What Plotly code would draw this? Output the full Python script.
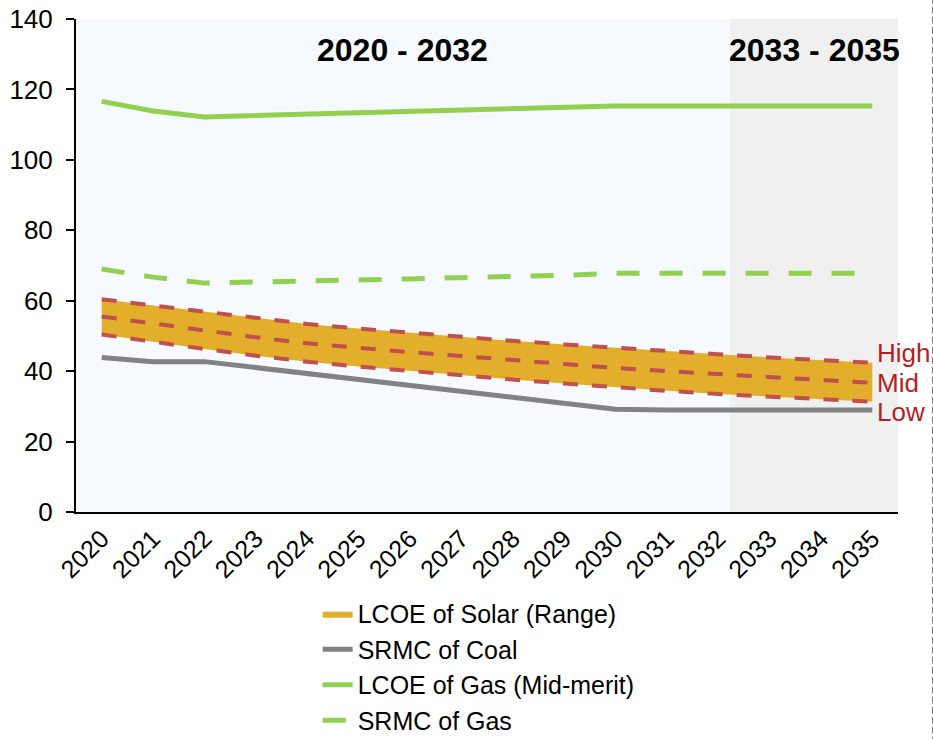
import plotly.graph_objects as go

years = [str(y) for y in range(2020, 2036)]

solar_high = [60.4, 58.6, 56.8, 55.1, 53.4, 52.1, 50.9, 49.9, 48.6, 47.6, 46.6, 45.7, 44.8, 43.9, 43.1, 42.4]
solar_mid = [55.5, 53.5, 51.5, 49.6, 47.9, 46.6, 45.4, 44.3, 43.1, 42.0, 40.9, 40.0, 39.1, 38.3, 37.5, 36.7]
solar_low = [50.4, 48.3, 46.3, 44.4, 42.7, 41.3, 40.0, 38.8, 37.6, 36.5, 35.4, 34.4, 33.5, 32.7, 32.0, 31.3]
coal_srmc = [43.9, 42.7, 42.7, 41.0, 39.3, 37.6, 36.0, 34.3, 32.6, 30.9, 29.2, 29.0, 29.0, 29.0, 29.0, 29.0]
gas_lcoe = [116.6, 113.9, 112.2, 112.6, 113.0, 113.4, 113.7, 114.1, 114.5, 114.9, 115.3, 115.3, 115.3, 115.3, 115.3, 115.3]
gas_srmc = [69.0, 66.7, 65.0, 65.2, 65.5, 65.9, 66.2, 66.5, 66.9, 67.2, 67.8, 67.8, 67.8, 67.8, 67.8, 67.8]

period_labels = ["2020 - 2032", "2033 - 2035"]
band_labels = ["High", "Mid", "Low"]

FONT = "Liberation Sans, Arial, sans-serif"
GOLD = "rgba(224,168,28,0.93)"
RED = "#C0504D"
GREEN = "#92D050"
GREY = "#808285"
LABEL_RED = "#B51F1F"

fig = go.Figure()

# Solar range band
fig.add_trace(go.Scatter(x=years, y=solar_low, mode="lines", line=dict(width=0, color=GOLD),
                         showlegend=False, hoverinfo="skip"))
fig.add_trace(go.Scatter(x=years, y=solar_high, mode="lines", line=dict(width=0, color=GOLD),
                         fill="tonexty", fillcolor=GOLD, name="LCOE of Solar (Range)",
                         legendgroup="a", legendrank=1))
# Coal
fig.add_trace(go.Scatter(x=years, y=coal_srmc, mode="lines", line=dict(width=5, color=GREY),
                         name="SRMC of Coal", legendgroup="b", legendrank=2))
# Dashed solar lines
for ser in (solar_high, solar_mid, solar_low):
    fig.add_trace(go.Scatter(x=years, y=ser, mode="lines",
                             line=dict(width=4, color=RED, dash="15px,14px"),
                             showlegend=False, hoverinfo="skip"))
# Gas
fig.add_trace(go.Scatter(x=years, y=gas_lcoe, mode="lines", line=dict(width=5, color=GREEN),
                         name="LCOE of Gas (Mid-merit)", legendgroup="c", legendrank=3))
fig.add_trace(go.Scatter(x=years, y=gas_srmc, mode="lines",
                         line=dict(width=5, color=GREEN, dash="23px,20px"),
                         name="SRMC of Gas", legendgroup="d", legendrank=4))

# Shaded later period
fig.add_shape(type="rect", xref="paper", yref="paper", x0=0.7956, x1=1.0, y0=0, y1=1,
              fillcolor="#F0F0F0", line=dict(width=0), layer="below")
# Right dashed border
fig.add_shape(type="line", xref="paper", yref="paper", x0=1.0426, x1=1.0426, y0=-0.47, y1=1.04,
              line=dict(color="#555555", width=1.5, dash="7px,3px"))

# Period titles
for txt, xp in zip(period_labels, [0.397, 0.898]):
    fig.add_annotation(text="<b>" + txt + "</b>", xref="paper", yref="paper", x=xp, y=0.937,
                       showarrow=False, font=dict(family=FONT, size=32, color="black"),
                       xanchor="center", yanchor="middle")

# High / Mid / Low labels
for txt, yv in zip(band_labels, [solar_high[-1] + 2.8, solar_mid[-1], solar_low[-1] - 3.0]):
    fig.add_annotation(text=txt, xref="paper", yref="y", x=0.972, y=yv, showarrow=False,
                       font=dict(family=FONT, size=26, color=LABEL_RED),
                       xanchor="left", yanchor="middle")

fig.update_layout(
    width=933, height=739,
    margin=dict(l=76, r=35, t=19, b=227, autoexpand=False),
    paper_bgcolor="white",
    plot_bgcolor="#F6F9FE",
    font=dict(family=FONT, color="black"),
    showlegend=True,
    legend=dict(x=0.294, y=-0.16, xanchor="left", yanchor="top",
                font=dict(family=FONT, size=25, color="black"),
                bgcolor="rgba(0,0,0,0)", tracegroupgap=2, traceorder="normal"),
    xaxis=dict(type="category", range=[-0.5, 15.5], showgrid=False, zeroline=False,
               showline=True, linecolor="black", linewidth=2, ticks="",
               tickangle=-45, tickfont=dict(family=FONT, size=25, color="black")),
    yaxis=dict(range=[0, 140], dtick=20, showgrid=False, zeroline=False,
               showline=True, linecolor="black", linewidth=2, ticks="outside",
               ticklen=8, tickwidth=2, tickcolor="black", ticklabelstandoff=8,
               tickfont=dict(family=FONT, size=26, color="black")),
)

fig.write_html("out.html")
